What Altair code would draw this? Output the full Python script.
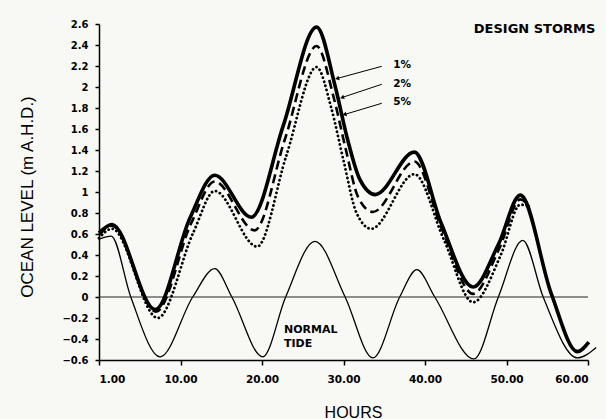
import altair as alt
import pandas as pd

# ---- data (hours from start, ocean level m A.H.D.) ----
tide_hours = [0, 1.5, 3.9, 7.5, 11.5, 14.2, 16.3, 20.1, 22.9, 26.5, 30.2, 33.6, 36.9, 39.0, 41.2, 46.0, 49.0, 52.0, 54.5, 58.7, 61.0]
tide_level = [0.55, 0.58, 0.0, -0.57, 0.0, 0.27, 0.0, -0.57, 0.0, 0.53, 0.0, -0.58, 0.0, 0.26, 0.0, -0.59, 0.0, 0.54, 0.0, -0.58, -0.48]

s1_hours = [0, 1.6, 6.9, 11.2, 14.2, 18.7, 22.6, 26.7, 29.0, 30.5, 32.0, 33.9, 38.7, 42.0, 45.9, 49.0, 51.7, 55.5, 58.7, 60.1]
s1_level = [0.61, 0.69, -0.12, 0.76, 1.16, 0.76, 1.63, 2.57, 2.0, 1.5, 1.12, 0.975, 1.38, 0.70, 0.095, 0.50, 0.97, 0.03, -0.52, -0.43]

s2_hours = [0, 1.6, 7.0, 11.3, 14.2, 19.1, 22.8, 26.7, 28.8, 30.3, 31.8, 33.6, 38.7, 42.1, 45.9, 49.1, 51.7, 52.8]
s2_level = [0.59, 0.68, -0.14, 0.70, 1.10, 0.635, 1.50, 2.39, 1.9, 1.4, 0.95, 0.81, 1.29, 0.64, 0.03, 0.46, 0.93, 0.86]

s5_hours = [0, 1.6, 7.2, 11.6, 14.2, 19.4, 23.0, 26.7, 28.5, 30.0, 31.6, 33.4, 38.7, 42.3, 45.9, 49.3, 51.7, 52.5]
s5_level = [0.56, 0.65, -0.20, 0.62, 1.01, 0.48, 1.35, 2.19, 1.8, 1.3, 0.80, 0.65, 1.17, 0.55, -0.05, 0.40, 0.88, 0.87]

x_ticks = [0, 10, 20, 30, 40, 50, 60]
y_ticks = [-0.6, -0.4, -0.2, 0, 0.2, 0.4, 0.6, 0.8, 1, 1.2, 1.4, 1.6, 1.8, 2, 2.2, 2.4, 2.6]

# annotations (data coordinates)
label_text = ["1%", "2%", "5%"]
label_hour = [36.1, 36.1, 36.1]
label_level = [2.18, 2.00, 1.826]
lead_h0 = [34.7, 34.7, 34.7]
lead_v0 = [2.197, 2.026, 1.845]
lead_h1 = [29.3, 29.9, 30.2]
lead_v1 = [2.083, 1.902, 1.740]
arrow_angle = [255, 252, 253]

FONT = "DejaVu Sans"

def frame(h, v):
    return pd.DataFrame({"hour": h, "level": v})

xscale = alt.Scale(domain=[0, 60], nice=False, zero=False)
yscale = alt.Scale(domain=[-0.6, 2.6], nice=False, zero=False)

xaxis = alt.Axis(
    values=x_ticks, labelExpr="datum.value == 0 ? '1.00' : format(datum.value, '.2f')",
    labelFont=FONT, labelFontWeight="bold", labelFontSize=10.5, labelColor="black",
    labelPadding=9, tickSize=5, tickWidth=1.5, tickColor="black", labelOverlap=False,
    domainColor="black", domainWidth=1.5, grid=False,
    title="HOURS", titleFont="Liberation Sans", titleFontSize=16, titleFontWeight="normal",
    titleColor="black", titleX=254, titleY=57, titleBaseline="alphabetic", titleAlign="center",
)
yaxis = alt.Axis(
    values=y_ticks, labelExpr="format(datum.value, '~g')",
    labelFont=FONT, labelFontWeight="bold", labelFontSize=10, labelColor="black",
    labelPadding=7, tickSize=4, tickWidth=1.5, tickColor="black", labelOverlap=False,
    domainColor="black", domainWidth=1.5, grid=False,
    title="OCEAN LEVEL (m A.H.D.)", titleFont="Liberation Sans", titleFontSize=17,
    titleFontWeight="normal", titleColor="black", titleX=-67, titleY=172.5,
    titleBaseline="alphabetic", titleAlign="center", titleAngle=270,
)

X = alt.X("hour:Q", scale=xscale, axis=xaxis)
Y = alt.Y("level:Q", scale=yscale, axis=yaxis)

zero = alt.Chart(pd.DataFrame({"level": [0]})).mark_rule(color="#222", strokeWidth=1).encode(
    y=alt.Y("level:Q", scale=yscale, axis=yaxis), x=alt.value(0), x2=alt.value(489))

tide = alt.Chart(frame(tide_hours, tide_level)).mark_line(
    color="black", strokeWidth=1.3, interpolate="monotone").encode(x=X, y=Y)
s1 = alt.Chart(frame(s1_hours, s1_level)).mark_line(
    color="black", strokeWidth=3.6, interpolate="monotone").encode(x=X, y=Y)
s2 = alt.Chart(frame(s2_hours, s2_level)).mark_line(
    color="black", strokeWidth=2.6, strokeDash=[9, 5], interpolate="monotone").encode(x=X, y=Y)
s5 = alt.Chart(frame(s5_hours, s5_level)).mark_line(
    color="black", strokeWidth=2.8, strokeDash=[0.1, 4.2], strokeCap="round", interpolate="monotone").encode(x=X, y=Y)

ann = pd.DataFrame({"text": label_text, "hour": label_hour, "level": label_level,
                    "h0": lead_h0, "v0": lead_v0, "h1": lead_h1, "v1": lead_v1, "angle": arrow_angle})
labels = alt.Chart(ann).mark_text(font=FONT, fontWeight="bold", fontSize=10.5, align="left",
                                  baseline="alphabetic", color="black").encode(
    x=alt.X("hour:Q", scale=xscale, axis=xaxis), y=alt.Y("level:Q", scale=yscale, axis=yaxis), text="text:N")
leaders = alt.Chart(ann).mark_rule(color="black", strokeWidth=1).encode(
    x=alt.X("h0:Q", scale=xscale, axis=xaxis), y=alt.Y("v0:Q", scale=yscale, axis=yaxis), x2="h1:Q", y2="v1:Q")
heads = alt.Chart(ann).mark_point(shape="triangle", filled=True, size=22, color="black", opacity=1).encode(
    x=alt.X("h1:Q", scale=xscale, axis=xaxis), y=alt.Y("v1:Q", scale=yscale, axis=yaxis),
    angle=alt.Angle("angle:Q", scale=None))

title_df = pd.DataFrame({"text": ["DESIGN STORMS"], "hour": [60.9], "level": [2.51]})
title_txt = alt.Chart(title_df).mark_text(font=FONT, fontWeight="bold", fontSize=13, align="right",
                                          baseline="alphabetic", color="black").encode(
    x=alt.X("hour:Q", scale=xscale, axis=xaxis), y=alt.Y("level:Q", scale=yscale, axis=yaxis), text="text:N")

tide_df = pd.DataFrame({"text": ["NORMAL", "TIDE"], "hour": [22.7, 22.7], "level": [-0.346, -0.479]})
tide_txt = alt.Chart(tide_df).mark_text(font=FONT, fontWeight="bold", fontSize=11, align="left",
                                        baseline="alphabetic", color="black").encode(
    x=alt.X("hour:Q", scale=xscale, axis=xaxis), y=alt.Y("level:Q", scale=yscale, axis=yaxis), text="text:N")

chart = alt.layer(tide, zero, s5, s2, s1, leaders, heads, labels, title_txt, tide_txt).properties(
    width=489, height=336,
    autosize=alt.AutoSizeParams(type="none"),
    padding={"left": 99, "top": 24, "right": 18, "bottom": 59},
    background="#f8f8f5",
).configure_view(stroke=None).configure_axis(labelOverlap=False)

chart.save("out.html", embed_options={"renderer": "svg", "actions": False})
